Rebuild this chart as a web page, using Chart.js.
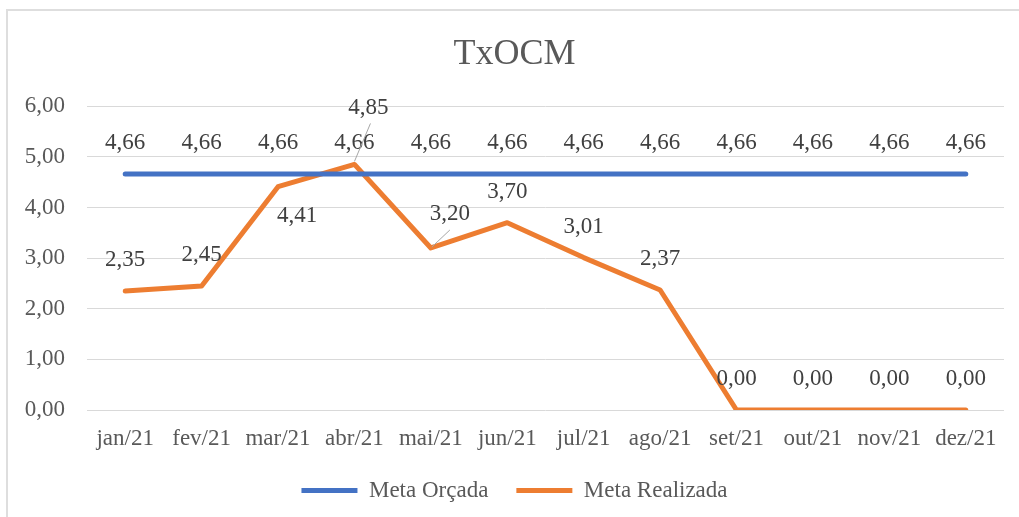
<!DOCTYPE html>
<html>
<head>
<meta charset="utf-8">
<script src="https://cdn.jsdelivr.net/npm/chart.js@4.4.0/dist/chart.umd.min.js"></script>
<style>
  html, body { margin: 0; padding: 0; background: #fff; overflow: hidden; }
  #wrap { position: relative; width: 1019px; height: 517px; }
  #frame {
    position: absolute; left: 6px; top: 9px; width: 1100px; height: 600px;
    border: 2px solid #dedede; pointer-events: none;
  }
</style>
</head>
<body>
<div id="wrap">
  <canvas id="txocmChart" width="1019" height="517"></canvas>
  <div id="frame"></div>
</div>
<script>
const months = ["jan/21", "fev/21", "mar/21", "abr/21", "mai/21", "jun/21",
                "jul/21", "ago/21", "set/21", "out/21", "nov/21", "dez/21"];
const metaOrcada = [4.66, 4.66, 4.66, 4.66, 4.66, 4.66, 4.66, 4.66, 4.66, 4.66, 4.66, 4.66];
const metaRealizada = [2.35, 2.45, 4.41, 4.85, 3.20, 3.70, 3.01, 2.37, 0, 0, 0, 0];
const yTicks = [0, 1, 2, 3, 4, 5, 6];

const SERIF = "'Times New Roman', 'Liberation Serif', serif";
const fmt = v => v.toFixed(2).replace(".", ",");

// label nudges (px) for the orange series, where Excel labels were moved by hand
const labelMoves = {
  1: {
    2: { dx: 19, dy: 29 },
    3: { dx: 14, dy: -56, leader: [0, -3, 16, -41] },
    4: { dx: 19, dy: -34, leader: [1, -1, 19, -18] }
  }
};

const dataLabels = {
  id: "dataLabels",
  afterDatasetsDraw(chart) {
    const ctx = chart.ctx;
    ctx.save();
    ctx.font = "23px " + SERIF;
    ctx.textAlign = "center";
    ctx.textBaseline = "middle";
    chart.data.datasets.forEach((ds, di) => {
      const meta = chart.getDatasetMeta(di);
      meta.data.forEach((pt, i) => {
        const mv = (labelMoves[di] && labelMoves[di][i]) || { dx: 0, dy: -31 };
        if (mv.leader) {
          const l = mv.leader;
          ctx.strokeStyle = "#a6a6a6";
          ctx.lineWidth = 1;
          ctx.beginPath();
          ctx.moveTo(pt.x + l[0], pt.y + l[1]);
          ctx.lineTo(pt.x + l[2], pt.y + l[3]);
          ctx.stroke();
        }
        ctx.fillStyle = "#404040";
        ctx.fillText(fmt(ds.data[i]), pt.x + mv.dx, pt.y + mv.dy);
      });
    });
    ctx.restore();
  }
};

new Chart(document.getElementById("txocmChart"), {
  type: "line",
  data: {
    labels: months,
    datasets: [
      {
        label: "Meta Orçada",
        data: metaOrcada,
        borderColor: "#4472C4",
        backgroundColor: "#4472C4",
        borderWidth: 5,
        borderCapStyle: "round",
        borderJoinStyle: "round",
        pointRadius: 0,
        tension: 0
      },
      {
        label: "Meta Realizada",
        data: metaRealizada,
        borderColor: "#ED7D31",
        backgroundColor: "#ED7D31",
        borderWidth: 5,
        borderCapStyle: "round",
        borderJoinStyle: "round",
        pointRadius: 0,
        tension: 0
      }
    ]
  },
  options: {
    responsive: false,
    animation: false,
    layout: { padding: { left: 25, right: 15, top: 0, bottom: 5 } },
    plugins: {
      title: {
        display: true,
        text: "TxOCM",
        color: "#595959",
        font: { family: SERIF, size: 36, weight: "normal" },
        padding: { top: 33, bottom: 30 }
      },
      legend: {
        position: "bottom",
        labels: {
          usePointStyle: true,
          pointStyle: "line",
          pointStyleWidth: 56,
          padding: 28,
          color: "#595959",
          font: { family: SERIF, size: 23 }
        }
      },
      tooltip: { enabled: false }
    },
    scales: {
      x: {
        offset: true,
        afterFit: s => { s.height = 41; },
        grid: { display: false, drawTicks: false },
        border: { display: false },
        ticks: {
          padding: 17,
          maxRotation: 0,
          autoSkip: false,
          color: "#595959",
          font: { family: SERIF, size: 23, lineHeight: 1 }
        }
      },
      y: {
        min: 0,
        max: 6,
        afterFit: s => { s.width = 62; },
        afterBuildTicks: s => { s.ticks = yTicks.map(v => ({ value: v })); },
        grid: { color: "#d9d9d9", lineWidth: 1, drawTicks: false },
        border: { display: false },
        ticks: {
          padding: 22,
          color: "#595959",
          font: { family: SERIF, size: 23 },
          callback: v => fmt(v)
        }
      }
    }
  },
  plugins: [dataLabels]
});
</script>
</body>
</html>
